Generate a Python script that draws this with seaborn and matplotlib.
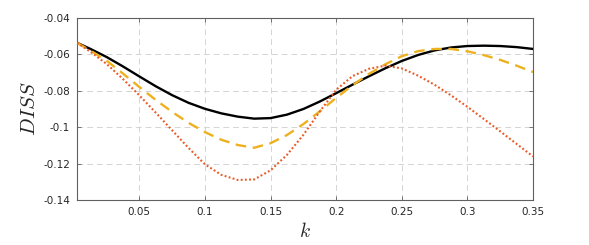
import numpy as np
import pandas as pd
import matplotlib
matplotlib.use("Agg")
import matplotlib.pyplot as plt
import seaborn as sns
from matplotlib.ticker import FixedLocator, FuncFormatter

k = [0.0025, 0.0125, 0.025, 0.0375, 0.05, 0.0625, 0.075, 0.0875, 0.1, 0.1125,
     0.125, 0.1375, 0.15, 0.1625, 0.175, 0.1875, 0.2, 0.2125, 0.225, 0.2375,
     0.25, 0.2625, 0.275, 0.2875, 0.3, 0.3125, 0.325, 0.3375, 0.35]

diss_black = [-0.0536, -0.0569, -0.0614, -0.0666, -0.0721, -0.0775, -0.0824, -0.0866,
              -0.0899, -0.0924, -0.0942, -0.0953, -0.0950, -0.0931, -0.0900, -0.0859,
              -0.0813, -0.0766, -0.0720, -0.0676, -0.0636, -0.0603, -0.0578, -0.0562,
              -0.0554, -0.0552, -0.0554, -0.0560, -0.0570]

diss_yellow = [-0.0536, -0.0578, -0.0634, -0.0705, -0.0779, -0.0850, -0.0916, -0.0976,
               -0.1027, -0.1069, -0.1098, -0.1113, -0.1088, -0.1043, -0.0983, -0.0913,
               -0.0839, -0.0769, -0.0707, -0.0654, -0.0610, -0.0582, -0.0570, -0.0570,
               -0.0583, -0.0604, -0.0630, -0.0662, -0.0697]

diss_red = [-0.0536, -0.0584, -0.0652, -0.0735, -0.0825, -0.0920, -0.1017, -0.1114,
            -0.1204, -0.1262, -0.1290, -0.1287, -0.1237, -0.1152, -0.1042, -0.0914,
            -0.0794, -0.0719, -0.0679, -0.0662, -0.0677, -0.0717, -0.0767, -0.0825,
            -0.0888, -0.0955, -0.1023, -0.1092, -0.1161]

xticks = [0.05, 0.1, 0.15, 0.2, 0.25, 0.3, 0.35]
yticks = [-0.14, -0.12, -0.1, -0.08, -0.06, -0.04]

sns.set_style("white")
plt.rcParams['font.family'] = ['DejaVu Sans']
plt.rcParams['mathtext.fontset'] = 'cm'

fig = plt.figure(figsize=(5.89, 2.45), dpi=100)
ax = fig.add_axes([0.1307, 0.1837, 0.905 - 0.1307, 0.9265 - 0.1837])

df = pd.DataFrame({"k": k, "black": diss_black, "yellow": diss_yellow, "red": diss_red})

sns.lineplot(data=df, x="k", y="black", ax=ax, color="black", linewidth=1.7, zorder=3)
sns.lineplot(data=df, x="k", y="yellow", ax=ax, color="#EDB120", linewidth=1.7, zorder=3)
ax.lines[-1].set_dashes([4.5, 2.8])
sns.lineplot(data=df, x="k", y="red", ax=ax, color="#E95A26", linewidth=1.5, zorder=3)
ax.lines[-1].set_linestyle((0, (0.9, 1.1)))

ax.set_xlim(0.0025, 0.35)
ax.set_ylim(-0.14, -0.04)
ax.xaxis.set_major_locator(FixedLocator(xticks))
ax.yaxis.set_major_locator(FixedLocator(yticks))
fmt = FuncFormatter(lambda v, p: ('%g' % round(v, 4)))
ax.xaxis.set_major_formatter(fmt)
ax.yaxis.set_major_formatter(fmt)

ax.grid(True, linestyle=(0, (6, 4)), color="#d4d4d4", linewidth=0.7)
ax.set_axisbelow(True)
for s in ax.spines.values():
    s.set_color("#606060")
    s.set_linewidth(0.8)
ax.tick_params(direction="in", length=3, width=0.6, color="#606060",
               labelsize=7.5, labelcolor="#262626", top=True, right=True,
               left=True, bottom=True, pad=5)

ax.set_xlabel(r"$k$", fontsize=14, labelpad=4)
ax.set_ylabel(r"$DISS$", fontsize=15, labelpad=3)

fig.savefig("out.png", dpi=100)
